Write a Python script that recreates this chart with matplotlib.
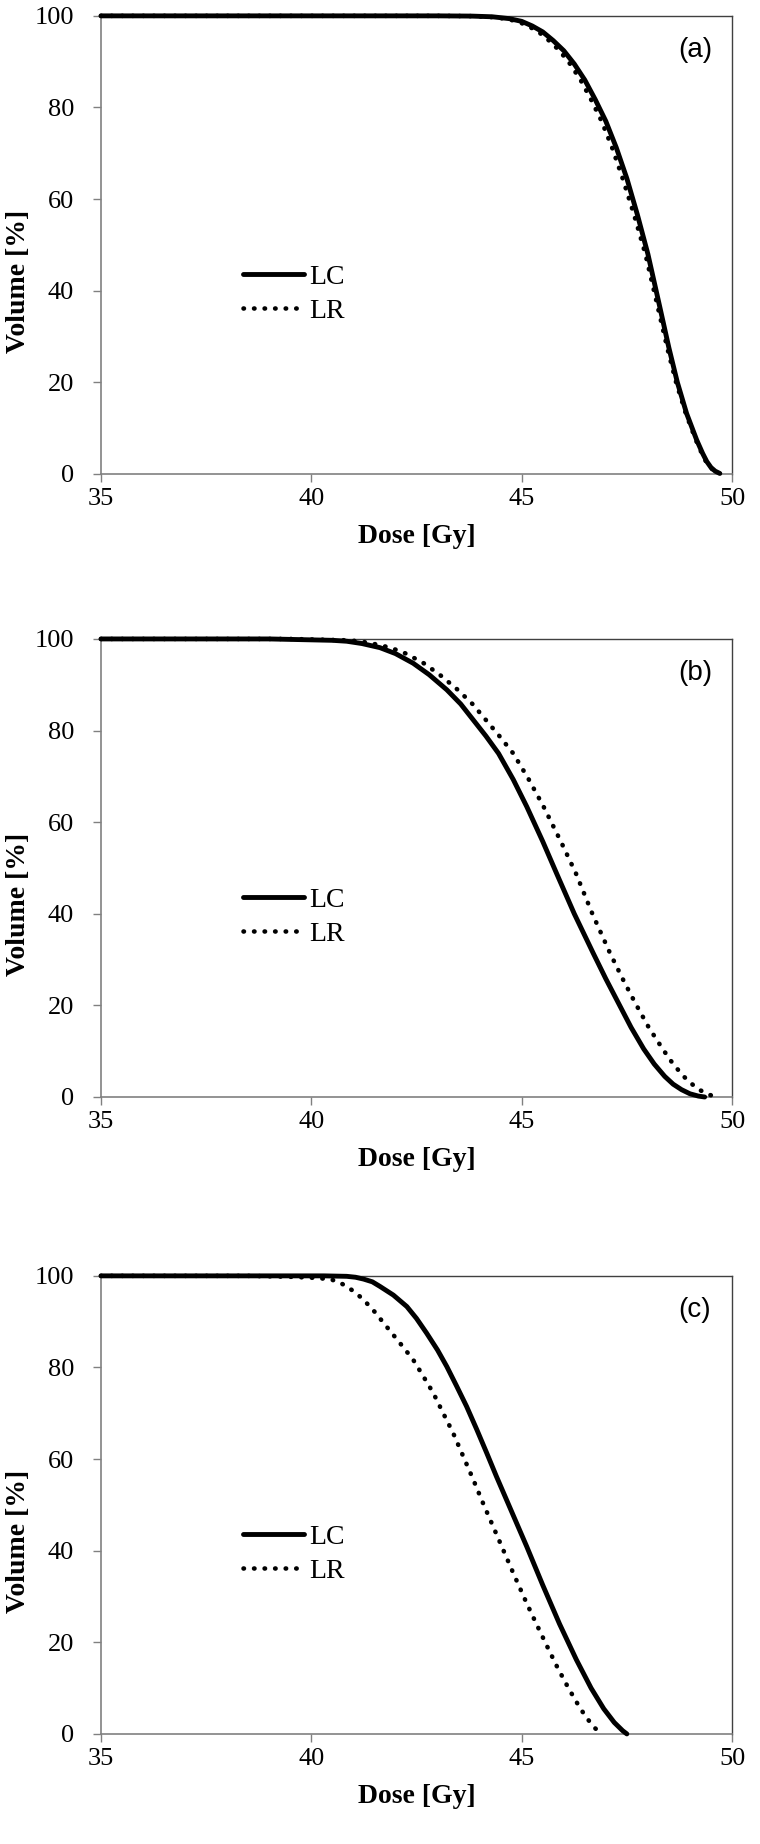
import matplotlib
matplotlib.use('Agg')
import matplotlib.pyplot as plt

# panel (a)
dose_a_lc = [35.0, 43.0, 43.8, 44.3, 44.7, 45.0, 45.25, 45.5, 45.75, 46.0, 46.25, 46.5, 46.75, 47.0, 47.25,
             47.5, 47.75, 48.0, 48.25, 48.5, 48.7, 48.92, 49.16, 49.3, 49.4, 49.5, 49.6, 49.71]
vol_a_lc = [100, 100, 99.95, 99.8, 99.4, 98.8, 97.8, 96.5, 94.6, 92.4, 89.5, 86.0, 81.7, 77.0, 71.2,
            64.5, 56.6, 48.0, 37.8, 27.5, 20.0, 13.2, 7.4, 4.5, 2.7, 1.4, 0.6, 0.1]
dose_a_lr = [35.0, 43.0, 43.75, 44.2, 44.6, 44.9, 45.15, 45.4, 45.65, 45.9, 46.15, 46.4, 46.65, 46.9, 47.15,
             47.4, 47.67, 47.94, 48.2, 48.46, 48.67, 48.9, 49.14, 49.28, 49.38, 49.48, 49.59, 49.7]
vol_a_lr = [100, 100, 99.95, 99.8, 99.4, 98.8, 97.8, 96.5, 94.6, 92.4, 89.5, 86.0, 81.7, 77.0, 71.2,
            64.5, 56.6, 48.0, 37.8, 27.5, 20.0, 13.2, 7.4, 4.5, 2.7, 1.4, 0.6, 0.1]

# panel (b)
dose_b_lc = [35.0, 39.0, 40.0, 40.5, 40.84, 41.2, 41.63, 42.0, 42.42, 42.8, 43.22, 43.55, 43.85, 44.15, 44.45,
             44.8, 45.12, 45.5, 45.83, 46.25, 46.7, 47.0, 47.3, 47.6, 47.9, 48.15, 48.4, 48.6, 48.8, 49.0,
             49.2, 49.35]
vol_b_lc = [100, 100, 99.8, 99.7, 99.5, 99.0, 98.1, 96.8, 94.7, 92.2, 88.9, 85.8, 82.3, 78.8, 75.0,
            69.3, 63.4, 55.8, 48.8, 40.0, 31.4, 25.8, 20.5, 15.2, 10.5, 7.2, 4.5, 2.8, 1.6, 0.7,
            0.2, 0]
dose_b_lr = [35.0, 39.5, 40.4, 40.85, 41.14, 41.45, 41.88, 42.25, 42.67, 43.05, 43.48, 43.83, 44.15, 44.47, 44.8,
             45.17, 45.52, 45.93, 46.29, 46.68, 47.1, 47.4, 47.7, 48.02, 48.35, 48.6, 48.85, 49.05, 49.22, 49.4,
             49.55, 49.65]
vol_b_lr = [100, 100, 99.8, 99.7, 99.5, 99.0, 98.1, 96.8, 94.7, 92.2, 88.9, 85.8, 82.3, 78.8, 75.0,
            69.3, 63.4, 55.8, 48.8, 40.0, 31.4, 25.8, 20.5, 15.2, 10.5, 7.2, 4.5, 2.8, 1.6, 0.7,
            0.2, 0]

# panel (c)
dose_c_lc = [35.0, 40.3, 40.84, 41.05, 41.24, 41.45, 41.63, 41.95, 42.27, 42.5, 42.74, 43.0, 43.22, 43.45, 43.69,
             43.93, 44.17, 44.4, 44.64, 44.88, 45.12, 45.5, 45.9, 46.3, 46.65, 46.95, 47.2, 47.4, 47.5]
vol_c_lc = [100, 100, 99.9, 99.7, 99.3, 98.7, 97.7, 95.8, 93.3, 90.7, 87.5, 83.8, 80.2, 76.0, 71.5,
            66.5, 61.3, 56.2, 51.1, 46.0, 40.9, 32.5, 24.0, 16.2, 10.0, 5.5, 2.5, 0.7, 0]
dose_c_lr = [35.0, 38.5, 39.5, 40.0, 40.44, 40.64, 40.84, 41.04, 41.24, 41.5, 41.79, 42.1, 42.42, 42.66, 42.9,
             43.13, 43.37, 43.61, 43.85, 44.08, 44.32, 44.56, 44.8, 45.12, 45.35, 45.6, 45.85, 46.1, 46.3, 46.47,
             46.62, 46.75, 46.85, 46.92]
vol_c_lr = [100, 100, 99.8, 99.6, 99.3, 98.7, 97.7, 96.4, 94.8, 92.2, 88.9, 85.4, 81.7, 78.1, 74.4,
            70.1, 65.7, 60.6, 55.5, 50.4, 45.3, 40.2, 35.1, 28.5, 24.0, 19.2, 14.5, 10.2, 7.0, 4.5,
            2.6, 1.2, 0.4, 0]

panel_labels = ['(a)', '(b)', '(c)']
x_ticks = [35, 40, 45, 50]
y_ticks = [0, 20, 40, 60, 80, 100]

panels = [
    (dose_a_lc, vol_a_lc, dose_a_lr, vol_a_lr),
    (dose_b_lc, vol_b_lc, dose_b_lr, vol_b_lr),
    (dose_c_lc, vol_c_lc, dose_c_lr, vol_c_lr),
]
bottoms = [0.7430, 0.4051, 0.0597]

serif = 'Liberation Serif'

fig = plt.figure(figsize=(7.6, 18.44), dpi=100)

for i, (dlc, vlc, dlr, vlr) in enumerate(panels):
    ax = fig.add_axes([0.1329, bottoms[i], 0.8303, 0.2484])
    ax.plot(dlc, vlc, color='black', lw=3.5, solid_capstyle='round', solid_joinstyle='round',
            clip_on=False, label='LC', zorder=3)
    ax.plot(dlr, vlr, color='black', lw=3.3, linestyle=(0, (0.1, 2.2)), dash_capstyle='round',
            clip_on=False, label='LR', zorder=3)

    ax.set_xlim(35, 50)
    ax.set_ylim(0, 100)
    ax.set_xticks(x_ticks)
    ax.set_yticks(y_ticks)
    for lab in ax.get_xticklabels() + ax.get_yticklabels():
        lab.set_fontfamily(serif)
    ax.tick_params(direction='out', length=6, width=1, color='#808080', labelsize=19)
    ax.tick_params(axis='y', pad=13.5)
    ax.tick_params(axis='x', pad=4)

    for side in ['left', 'bottom']:
        ax.spines[side].set_color('#808080')
        ax.spines[side].set_linewidth(1.2)
    for side in ['top', 'right']:
        ax.spines[side].set_color('#404040')
        ax.spines[side].set_linewidth(1.0)

    ax.set_xlabel('Dose [Gy]', fontfamily=serif, fontweight='bold', fontsize=20)
    ax.set_ylabel('Volume [%]', fontfamily=serif, fontweight='bold', fontsize=20)
    ax.xaxis.set_label_coords(0.5, -0.109)
    ax.yaxis.set_label_coords(-0.111, 0.42)

    ax.text(49.12, 92.6, panel_labels[i], fontfamily='Liberation Sans', fontsize=20,
            ha='center', va='center')

    ax.legend(loc='center left', bbox_to_anchor=(0.225, 0.393), frameon=False,
              prop={'family': serif, 'size': 20}, handlelength=2.2, handletextpad=0.2,
              labelspacing=0.3, borderpad=0, borderaxespad=0)

fig.savefig('out.png', dpi=100)
